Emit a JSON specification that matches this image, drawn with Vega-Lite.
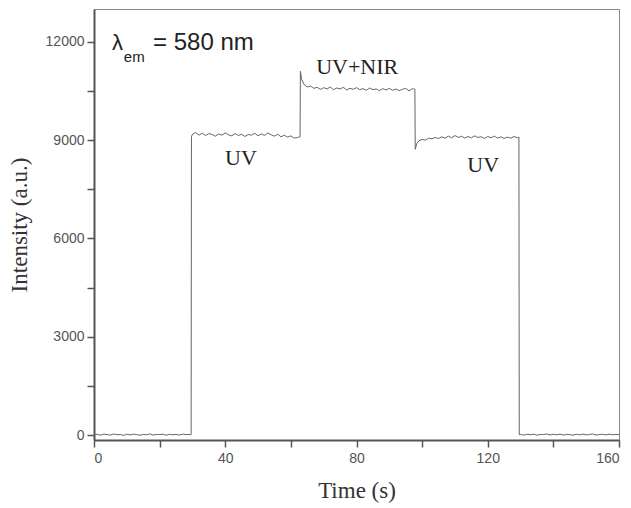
{
  "$schema": "https://vega.github.io/schema/vega-lite/v6.json",
  "width": 525,
  "height": 431,
  "autosize": {"type": "none"},
  "padding": {"left": 94, "top": 9, "right": 12, "bottom": 68},
  "background": "white",
  "config": {
    "view": {"stroke": "#888", "strokeWidth": 1},
    "axis": {
      "grid": false,
      "domainColor": "#555",
      "domainWidth": 2,
      "tickColor": "#555",
      "tickWidth": 1.5,
      "tickSize": 7,
      "labelFont": "Liberation Sans",
      "labelFontSize": 14,
      "labelColor": "#555",
      "titleFont": "Liberation Serif",
      "titleFontSize": 23,
      "titleFontWeight": "normal",
      "titleColor": "#333"
    }
  },
  "datasets": {
    "series": [
      {"t": 0, "v": 10}, {"t": 1, "v": 25}, {"t": 2, "v": -5}, {"t": 3, "v": 30}, {"t": 4, "v": 15},
      {"t": 5, "v": 0}, {"t": 6, "v": 35}, {"t": 7, "v": 10}, {"t": 8, "v": 20}, {"t": 9, "v": -10},
      {"t": 10, "v": 25}, {"t": 11, "v": 5}, {"t": 12, "v": 30}, {"t": 13, "v": 15}, {"t": 14, "v": -5},
      {"t": 15, "v": 20}, {"t": 16, "v": 10}, {"t": 17, "v": 35}, {"t": 18, "v": 0}, {"t": 19, "v": 20},
      {"t": 20, "v": 15}, {"t": 21, "v": 30}, {"t": 22, "v": -5}, {"t": 23, "v": 25}, {"t": 24, "v": 10},
      {"t": 25, "v": 20}, {"t": 26, "v": 0}, {"t": 27, "v": 30}, {"t": 28, "v": 15}, {"t": 29, "v": 20},
      {"t": 29.6, "v": 10},
      {"t": 29.7, "v": 9100}, {"t": 30, "v": 9180}, {"t": 31, "v": 9230}, {"t": 32, "v": 9150}, {"t": 33, "v": 9210},
      {"t": 34, "v": 9140}, {"t": 35, "v": 9200}, {"t": 36, "v": 9170}, {"t": 37, "v": 9120}, {"t": 38, "v": 9190},
      {"t": 39, "v": 9150}, {"t": 40, "v": 9220}, {"t": 41, "v": 9160}, {"t": 42, "v": 9130}, {"t": 43, "v": 9200},
      {"t": 44, "v": 9140}, {"t": 45, "v": 9180}, {"t": 46, "v": 9110}, {"t": 47, "v": 9170}, {"t": 48, "v": 9150},
      {"t": 49, "v": 9210}, {"t": 50, "v": 9130}, {"t": 51, "v": 9190}, {"t": 52, "v": 9140}, {"t": 53, "v": 9220},
      {"t": 54, "v": 9160}, {"t": 55, "v": 9120}, {"t": 56, "v": 9180}, {"t": 57, "v": 9100}, {"t": 58, "v": 9150},
      {"t": 59, "v": 9090}, {"t": 60, "v": 9130}, {"t": 61, "v": 9060}, {"t": 62, "v": 9080}, {"t": 62.8, "v": 9100},
      {"t": 62.9, "v": 11100}, {"t": 63.3, "v": 10850}, {"t": 64, "v": 10700}, {"t": 65, "v": 10620}, {"t": 66, "v": 10650},
      {"t": 67, "v": 10580}, {"t": 68, "v": 10610}, {"t": 69, "v": 10550}, {"t": 70, "v": 10600}, {"t": 71, "v": 10560},
      {"t": 72, "v": 10620}, {"t": 73, "v": 10540}, {"t": 74, "v": 10590}, {"t": 75, "v": 10560}, {"t": 76, "v": 10610},
      {"t": 77, "v": 10530}, {"t": 78, "v": 10580}, {"t": 79, "v": 10550}, {"t": 80, "v": 10600}, {"t": 81, "v": 10540},
      {"t": 82, "v": 10570}, {"t": 83, "v": 10520}, {"t": 84, "v": 10590}, {"t": 85, "v": 10540}, {"t": 86, "v": 10560},
      {"t": 87, "v": 10510}, {"t": 88, "v": 10570}, {"t": 89, "v": 10530}, {"t": 90, "v": 10580}, {"t": 91, "v": 10520},
      {"t": 92, "v": 10560}, {"t": 93, "v": 10510}, {"t": 94, "v": 10550}, {"t": 95, "v": 10580}, {"t": 96, "v": 10500},
      {"t": 97, "v": 10570}, {"t": 97.8, "v": 10550},
      {"t": 97.9, "v": 8720}, {"t": 98.4, "v": 8900}, {"t": 99, "v": 8980}, {"t": 100, "v": 9020}, {"t": 101, "v": 9000},
      {"t": 102, "v": 9060}, {"t": 103, "v": 9040}, {"t": 104, "v": 9080}, {"t": 105, "v": 9050}, {"t": 106, "v": 9100},
      {"t": 107, "v": 9060}, {"t": 108, "v": 9120}, {"t": 109, "v": 9070}, {"t": 110, "v": 9140}, {"t": 111, "v": 9080},
      {"t": 112, "v": 9120}, {"t": 113, "v": 9060}, {"t": 114, "v": 9110}, {"t": 115, "v": 9070}, {"t": 116, "v": 9130},
      {"t": 117, "v": 9080}, {"t": 118, "v": 9100}, {"t": 119, "v": 9050}, {"t": 120, "v": 9110}, {"t": 121, "v": 9070},
      {"t": 122, "v": 9120}, {"t": 123, "v": 9060}, {"t": 124, "v": 9100}, {"t": 125, "v": 9050}, {"t": 126, "v": 9090},
      {"t": 127, "v": 9060}, {"t": 128, "v": 9110}, {"t": 129, "v": 9070}, {"t": 129.5, "v": 9090},
      {"t": 129.6, "v": 10}, {"t": 130, "v": 20}, {"t": 131, "v": 0}, {"t": 132, "v": 25}, {"t": 133, "v": 10},
      {"t": 134, "v": 30}, {"t": 135, "v": -5}, {"t": 136, "v": 20}, {"t": 137, "v": 15}, {"t": 138, "v": 35},
      {"t": 139, "v": 5}, {"t": 140, "v": 25}, {"t": 141, "v": 10}, {"t": 142, "v": 30}, {"t": 143, "v": 0},
      {"t": 144, "v": 20}, {"t": 145, "v": 15}, {"t": 146, "v": -5}, {"t": 147, "v": 25}, {"t": 148, "v": 10},
      {"t": 149, "v": 30}, {"t": 150, "v": 5}, {"t": 151, "v": 20}, {"t": 152, "v": 35}, {"t": 153, "v": 0},
      {"t": 154, "v": 15}, {"t": 155, "v": 25}, {"t": 156, "v": 5}, {"t": 157, "v": 30}, {"t": 158, "v": 10},
      {"t": 159, "v": 20}, {"t": 160, "v": 15}
    ],
    "notes": [
      {"t": 44.8, "v": 8450, "label": "UV"},
      {"t": 80.2, "v": 11230, "label": "UV+NIR"},
      {"t": 118.6, "v": 8240, "label": "UV"}
    ],
    "lambda": [{"t": 5.5, "v": 11950, "label": "λ"}],
    "sub": [{"t": 9.1, "v": 11540, "label": "em"}],
    "eq": [{"t": 18.0, "v": 11950, "label": "= 580 nm"}]
  },
  "layer": [
    {
      "data": {"name": "series"},
      "mark": {"type": "line", "color": "#666", "strokeWidth": 1, "clip": true},
      "encoding": {
        "x": {
          "field": "t", "type": "quantitative",
          "scale": {"domain": [0, 160], "nice": false},
          "axis": {
            "title": "Time (s)",
            "values": [0, 20, 40, 60, 80, 100, 120, 140, 160],
            "labelExpr": "datum.value % 40 == 0 ? datum.label : ''",
            "labelPadding": 4,
            "titlePadding": 14
          }
        },
        "y": {
          "field": "v", "type": "quantitative",
          "scale": {"domain": [-150, 13000], "nice": false, "zero": false},
          "axis": {
            "title": "Intensity (a.u.)",
            "values": [0, 1500, 3000, 4500, 6000, 7500, 9000, 10500, 12000],
            "format": "d",
            "labelExpr": "datum.value % 3000 == 0 ? datum.label : ''",
            "labelPadding": 3,
            "titlePadding": 14
          }
        }
      }
    },
    {
      "data": {"name": "notes"},
      "mark": {"type": "text", "font": "Liberation Serif", "fontSize": 22, "color": "#222", "align": "center", "baseline": "middle"},
      "encoding": {
        "x": {"field": "t", "type": "quantitative"},
        "y": {"field": "v", "type": "quantitative"},
        "text": {"field": "label"}
      }
    },
    {
      "data": {"name": "lambda"},
      "mark": {"type": "text", "font": "Liberation Sans", "fontSize": 22, "color": "#222", "align": "left", "baseline": "middle"},
      "encoding": {
        "x": {"field": "t", "type": "quantitative"},
        "y": {"field": "v", "type": "quantitative"},
        "text": {"field": "label"}
      }
    },
    {
      "data": {"name": "sub"},
      "mark": {"type": "text", "font": "Liberation Sans", "fontSize": 15, "color": "#222", "align": "left", "baseline": "middle"},
      "encoding": {
        "x": {"field": "t", "type": "quantitative"},
        "y": {"field": "v", "type": "quantitative"},
        "text": {"field": "label"}
      }
    },
    {
      "data": {"name": "eq"},
      "mark": {"type": "text", "font": "Liberation Sans", "fontSize": 24, "color": "#222", "align": "left", "baseline": "middle"},
      "encoding": {
        "x": {"field": "t", "type": "quantitative"},
        "y": {"field": "v", "type": "quantitative"},
        "text": {"field": "label"}
      }
    }
  ]
}
